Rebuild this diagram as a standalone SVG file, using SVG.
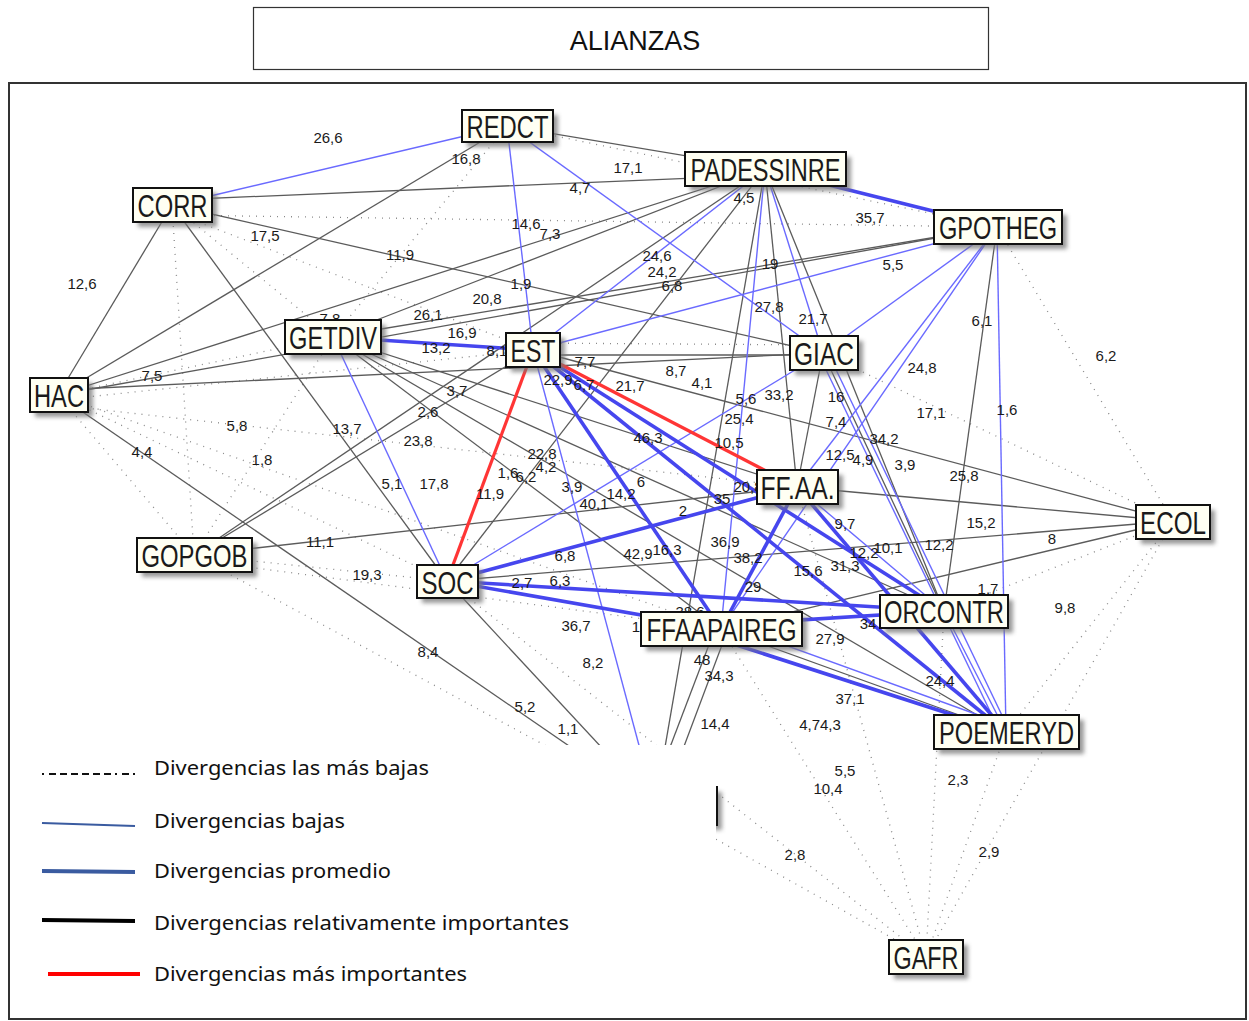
<svg xmlns="http://www.w3.org/2000/svg" width="1249" height="1021" viewBox="0 0 1249 1021">
<defs>
<filter id="blur" x="-20%" y="-20%" width="140%" height="140%"><feGaussianBlur stdDeviation="2"/></filter>
<style>
.g{stroke:#5b5b5b;stroke-width:1.3;fill:none}
.b{stroke:#6a6aff;stroke-width:1.4;fill:none}
.bt{stroke:#4646ee;stroke-width:3.6;fill:none}
.r{stroke:#ff3535;stroke-width:3.2;fill:none}
.d{stroke:#8a8a8a;stroke-width:1.3;stroke-dasharray:1 6;fill:none}
.nb{fill:#fffff3;stroke:#111;stroke-width:2}
.sh{fill:#777;opacity:.75;filter:url(#blur)}
.nt{font-family:"Liberation Sans",Arial,sans-serif;font-size:32px;fill:#1a1a1a;text-anchor:middle}
.el{font-family:"Liberation Sans",Arial,sans-serif;font-size:15px;fill:#1a1a1a;text-anchor:middle}
.lg{font-family:"Noto Sans","Open Sans",sans-serif;font-size:19px;fill:#111}
</style>
</defs>
<rect width="1249" height="1021" fill="#fff"/>
<g id="title">
<rect x="253.5" y="7.5" width="735" height="62" fill="#fff" stroke="#333" stroke-width="1.2"/>
<text x="635" y="50" font-family="'Liberation Sans',Arial,sans-serif" font-size="27" fill="#111" text-anchor="middle">ALIANZAS</text>
</g>
<rect x="9" y="83" width="1237" height="936" fill="#fff" stroke="#333" stroke-width="2"/>
<g id="connectors">
<g id="dotted">
<line class="d" x1="172" y1="205" x2="333" y2="337"/>
<line class="d" x1="172" y1="212" x2="533" y2="350"/>
<line class="d" x1="172" y1="215" x2="997" y2="227"/>
<line class="d" x1="172" y1="205" x2="194" y2="555"/>
<line class="d" x1="58" y1="395" x2="333" y2="337"/>
<line class="d" x1="58" y1="400" x2="533" y2="350"/>
<line class="d" x1="58" y1="395" x2="447" y2="581"/>
<line class="d" x1="58" y1="405" x2="797" y2="487"/>
<line class="d" x1="58" y1="395" x2="194" y2="555"/>
<line class="d" x1="58" y1="395" x2="721" y2="629"/>
<line class="d" x1="194" y1="555" x2="447" y2="581"/>
<line class="d" x1="194" y1="555" x2="655" y2="805"/>
<line class="d" x1="194" y1="560" x2="721" y2="629"/>
<line class="d" x1="507" y1="126" x2="333" y2="337"/>
<line class="d" x1="507" y1="126" x2="997" y2="227"/>
<line class="d" x1="533" y1="343" x2="823" y2="345"/>
<line class="d" x1="333" y1="337" x2="194" y2="555"/>
<line class="d" x1="997" y1="227" x2="1173" y2="521"/>
<line class="d" x1="1173" y1="521" x2="944" y2="611"/>
<line class="d" x1="1173" y1="521" x2="1006" y2="732"/>
<line class="d" x1="1173" y1="521" x2="926" y2="957"/>
<line class="d" x1="1173" y1="521" x2="823" y2="353"/>
<line class="d" x1="1006" y1="732" x2="926" y2="957"/>
<line class="d" x1="944" y1="611" x2="926" y2="957"/>
<line class="d" x1="721" y1="629" x2="926" y2="957"/>
<line class="d" x1="797" y1="487" x2="926" y2="957"/>
<line class="d" x1="655" y1="805" x2="926" y2="957"/>
<line class="d" x1="447" y1="581" x2="926" y2="957"/>
</g>
<g id="gray">
<line class="g" x1="507" y1="126" x2="58" y2="395"/>
<line class="g" x1="507" y1="126" x2="765" y2="169"/>
<line class="g" x1="172" y1="200" x2="765" y2="175"/>
<line class="g" x1="172" y1="205" x2="823" y2="353"/>
<line class="g" x1="172" y1="205" x2="58" y2="395"/>
<line class="g" x1="172" y1="205" x2="447" y2="581"/>
<line class="g" x1="58" y1="395" x2="765" y2="169"/>
<line class="g" x1="58" y1="395" x2="997" y2="227"/>
<line class="g" x1="58" y1="390" x2="823" y2="353"/>
<line class="g" x1="58" y1="395" x2="655" y2="805"/>
<line class="g" x1="333" y1="337" x2="765" y2="169"/>
<line class="g" x1="333" y1="337" x2="997" y2="227"/>
<line class="g" x1="333" y1="337" x2="797" y2="487"/>
<line class="g" x1="333" y1="337" x2="944" y2="611"/>
<line class="g" x1="333" y1="337" x2="1006" y2="732"/>
<line class="g" x1="333" y1="337" x2="721" y2="629"/>
<line class="g" x1="194" y1="555" x2="797" y2="487"/>
<line class="g" x1="194" y1="555" x2="765" y2="169"/>
<line class="g" x1="194" y1="555" x2="533" y2="350"/>
<line class="g" x1="533" y1="350" x2="1173" y2="521"/>
<line class="g" x1="797" y1="487" x2="1173" y2="521"/>
<line class="g" x1="447" y1="581" x2="1173" y2="521"/>
<line class="g" x1="721" y1="629" x2="1173" y2="521"/>
<line class="g" x1="447" y1="581" x2="655" y2="805"/>
<line class="g" x1="715" y1="629" x2="648" y2="805"/>
<line class="g" x1="728" y1="629" x2="662" y2="805"/>
<line class="g" x1="721" y1="629" x2="1006" y2="732"/>
<line class="g" x1="823" y1="353" x2="944" y2="611"/>
<line class="g" x1="823" y1="353" x2="797" y2="487"/>
<line class="g" x1="765" y1="169" x2="797" y2="487"/>
<line class="g" x1="765" y1="169" x2="944" y2="611"/>
<line class="g" x1="765" y1="169" x2="655" y2="805"/>
<line class="g" x1="765" y1="169" x2="447" y2="581"/>
<line class="g" x1="997" y1="227" x2="944" y2="611"/>
<line class="g" x1="533" y1="355" x2="823" y2="355"/>
</g>
<g id="blue-thin">
<line class="b" x1="507" y1="126" x2="172" y2="205"/>
<line class="b" x1="507" y1="126" x2="533" y2="350"/>
<line class="b" x1="507" y1="126" x2="823" y2="353"/>
<line class="b" x1="765" y1="169" x2="533" y2="350"/>
<line class="b" x1="765" y1="169" x2="823" y2="353" stroke-width="2.2"/>
<line class="b" x1="765" y1="169" x2="721" y2="629"/>
<line class="b" x1="533" y1="350" x2="997" y2="227"/>
<line class="b" x1="997" y1="227" x2="823" y2="353"/>
<line class="b" x1="997" y1="227" x2="797" y2="487"/>
<line class="b" x1="997" y1="227" x2="721" y2="629"/>
<line class="b" x1="997" y1="227" x2="1006" y2="732"/>
<line class="b" x1="333" y1="337" x2="447" y2="581"/>
<line class="b" x1="533" y1="350" x2="655" y2="805"/>
<line class="b" x1="447" y1="581" x2="823" y2="353"/>
<line class="b" x1="818" y1="353" x2="1000" y2="732"/>
<line class="b" x1="828" y1="353" x2="1010" y2="732"/>
<line class="b" x1="944" y1="611" x2="1006" y2="732"/>
<line class="b" x1="721" y1="622" x2="1006" y2="725"/>
<line class="b" x1="797" y1="487" x2="944" y2="611"/>
</g>
<g id="blue-thick">
<line class="bt" x1="765" y1="169" x2="997" y2="227"/>
<line class="bt" x1="333" y1="337" x2="533" y2="350"/>
<line class="bt" x1="533" y1="350" x2="721" y2="629"/>
<line class="bt" x1="533" y1="350" x2="944" y2="611"/>
<line class="bt" x1="533" y1="350" x2="1006" y2="732"/>
<line class="bt" x1="797" y1="487" x2="447" y2="581"/>
<line class="bt" x1="797" y1="487" x2="721" y2="629"/>
<line class="bt" x1="797" y1="487" x2="1006" y2="732"/>
<line class="bt" x1="447" y1="581" x2="721" y2="629"/>
<line class="bt" x1="447" y1="581" x2="944" y2="611"/>
<line class="bt" x1="721" y1="625" x2="944" y2="611"/>
<line class="bt" x1="721" y1="640" x2="1006" y2="732"/>
</g>
<g id="red">
<line class="r" x1="533" y1="350" x2="447" y2="581"/>
<line class="r" x1="533" y1="350" x2="797" y2="487"/>
</g>
</g>
<g id="edge-labels">
<text class="el" x="328" y="143">26,6</text>
<text class="el" x="466" y="164">16,8</text>
<text class="el" x="628" y="173">17,1</text>
<text class="el" x="580" y="193">4,7</text>
<text class="el" x="744" y="203">4,5</text>
<text class="el" x="870" y="223">35,7</text>
<text class="el" x="265" y="241">17,5</text>
<text class="el" x="400" y="260">11,9</text>
<text class="el" x="526" y="229">14,6</text>
<text class="el" x="550" y="239">7,3</text>
<text class="el" x="657" y="261">24,6</text>
<text class="el" x="662" y="277">24,2</text>
<text class="el" x="672" y="291">6,8</text>
<text class="el" x="770" y="269">19</text>
<text class="el" x="893" y="270">5,5</text>
<text class="el" x="82" y="289">12,6</text>
<text class="el" x="521" y="289">1,9</text>
<text class="el" x="487" y="304">20,8</text>
<text class="el" x="769" y="312">27,8</text>
<text class="el" x="813" y="324">21,7</text>
<text class="el" x="982" y="326">6,1</text>
<text class="el" x="1106" y="361">6,2</text>
<text class="el" x="428" y="320">26,1</text>
<text class="el" x="330" y="324">7,8</text>
<text class="el" x="462" y="338">16,9</text>
<text class="el" x="436" y="353">13,2</text>
<text class="el" x="497" y="356">8,1</text>
<text class="el" x="152" y="381">7,5</text>
<text class="el" x="585" y="367">7,7</text>
<text class="el" x="558" y="385">22,9</text>
<text class="el" x="584" y="390">6,7</text>
<text class="el" x="630" y="391">21,7</text>
<text class="el" x="676" y="376">8,7</text>
<text class="el" x="702" y="388">4,1</text>
<text class="el" x="457" y="396">3,7</text>
<text class="el" x="922" y="373">24,8</text>
<text class="el" x="746" y="404">5,6</text>
<text class="el" x="779" y="400">33,2</text>
<text class="el" x="836" y="402">16</text>
<text class="el" x="739" y="424">25,4</text>
<text class="el" x="931" y="418">17,1</text>
<text class="el" x="1007" y="415">1,6</text>
<text class="el" x="836" y="427">7,4</text>
<text class="el" x="237" y="431">5,8</text>
<text class="el" x="347" y="434">13,7</text>
<text class="el" x="428" y="417">2,6</text>
<text class="el" x="418" y="446">23,8</text>
<text class="el" x="648" y="443">46,3</text>
<text class="el" x="729" y="448">10,5</text>
<text class="el" x="884" y="444">34,2</text>
<text class="el" x="840" y="460">12,5</text>
<text class="el" x="863" y="465">4,9</text>
<text class="el" x="142" y="457">4,4</text>
<text class="el" x="262" y="465">1,8</text>
<text class="el" x="542" y="459">22,8</text>
<text class="el" x="508" y="478">1,6</text>
<text class="el" x="526" y="482">6,2</text>
<text class="el" x="546" y="472">4,2</text>
<text class="el" x="905" y="470">3,9</text>
<text class="el" x="964" y="481">25,8</text>
<text class="el" x="434" y="489">17,8</text>
<text class="el" x="392" y="489">5,1</text>
<text class="el" x="490" y="499">11,9</text>
<text class="el" x="572" y="492">3,9</text>
<text class="el" x="594" y="509">40,1</text>
<text class="el" x="621" y="499">14,2</text>
<text class="el" x="641" y="487">6</text>
<text class="el" x="722" y="504">35</text>
<text class="el" x="748" y="492">20,8</text>
<text class="el" x="683" y="516">2</text>
<text class="el" x="845" y="529">9,7</text>
<text class="el" x="981" y="528">15,2</text>
<text class="el" x="1052" y="544">8</text>
<text class="el" x="320" y="547">11,1</text>
<text class="el" x="725" y="547">36,9</text>
<text class="el" x="748" y="563">38,2</text>
<text class="el" x="864" y="558">12,2</text>
<text class="el" x="888" y="553">10,1</text>
<text class="el" x="939" y="550">12,2</text>
<text class="el" x="565" y="561">6,8</text>
<text class="el" x="638" y="559">42,9</text>
<text class="el" x="667" y="555">16,3</text>
<text class="el" x="845" y="571">31,3</text>
<text class="el" x="808" y="576">15,6</text>
<text class="el" x="367" y="580">19,3</text>
<text class="el" x="560" y="586">6,3</text>
<text class="el" x="522" y="588">2,7</text>
<text class="el" x="753" y="592">29</text>
<text class="el" x="988" y="594">1,7</text>
<text class="el" x="1065" y="613">9,8</text>
<text class="el" x="690" y="617">38,6</text>
<text class="el" x="576" y="631">36,7</text>
<text class="el" x="636" y="632">1</text>
<text class="el" x="868" y="629">34</text>
<text class="el" x="830" y="644">27,9</text>
<text class="el" x="428" y="657">8,4</text>
<text class="el" x="593" y="668">8,2</text>
<text class="el" x="702" y="665">48</text>
<text class="el" x="719" y="681">34,3</text>
<text class="el" x="940" y="686">24,4</text>
<text class="el" x="850" y="704">37,1</text>
<text class="el" x="525" y="712">5,2</text>
<text class="el" x="568" y="734">1,1</text>
<text class="el" x="715" y="729">14,4</text>
<text class="el" x="820" y="730">4,74,3</text>
<text class="el" x="845" y="776">5,5</text>
<text class="el" x="828" y="794">10,4</text>
<text class="el" x="958" y="785">2,3</text>
<text class="el" x="795" y="860">2,8</text>
<text class="el" x="989" y="857">2,9</text>
</g>
<g id="nodes">
<g id="node-REDCT"><rect class="sh" x="467" y="115" width="91" height="32"/><rect class="nb" x="462" y="110" width="91" height="32"/><text class="nt" x="507.5" y="138" textLength="82" lengthAdjust="spacingAndGlyphs">REDCT</text></g>
<g id="node-PADESSINRE"><rect class="sh" x="690" y="157" width="161" height="34"/><rect class="nb" x="685" y="152" width="161" height="34"/><text class="nt" x="765.5" y="181" textLength="150" lengthAdjust="spacingAndGlyphs">PADESSINRE</text></g>
<g id="node-CORR"><rect class="sh" x="138" y="193" width="79" height="34"/><rect class="nb" x="133" y="188" width="79" height="34"/><text class="nt" x="172.5" y="217" textLength="70" lengthAdjust="spacingAndGlyphs">CORR</text></g>
<g id="node-GPOTHEG"><rect class="sh" x="939" y="215" width="128" height="34"/><rect class="nb" x="934" y="210" width="128" height="34"/><text class="nt" x="998" y="239" textLength="118" lengthAdjust="spacingAndGlyphs">GPOTHEG</text></g>
<g id="node-GETDIV"><rect class="sh" x="290" y="325" width="96" height="34"/><rect class="nb" x="285" y="320" width="96" height="34"/><text class="nt" x="333" y="349" textLength="88" lengthAdjust="spacingAndGlyphs">GETDIV</text></g>
<g id="node-EST"><rect class="sh" x="511" y="338" width="54" height="34"/><rect class="nb" x="506" y="333" width="54" height="34"/><text class="nt" x="533" y="362" textLength="45" lengthAdjust="spacingAndGlyphs">EST</text></g>
<g id="node-GIAC"><rect class="sh" x="795" y="341" width="68" height="34"/><rect class="nb" x="790" y="336" width="68" height="34"/><text class="nt" x="824" y="365" textLength="60" lengthAdjust="spacingAndGlyphs">GIAC</text></g>
<g id="node-HAC"><rect class="sh" x="35" y="383" width="58" height="34"/><rect class="nb" x="30" y="378" width="58" height="34"/><text class="nt" x="59" y="407" textLength="50" lengthAdjust="spacingAndGlyphs">HAC</text></g>
<g id="node-FFAA"><rect class="sh" x="762" y="475" width="81" height="34"/><rect class="nb" x="757" y="470" width="81" height="34"/><text class="nt" x="797.5" y="499" textLength="74" lengthAdjust="spacingAndGlyphs">FF.AA.</text></g>
<g id="node-ECOL"><rect class="sh" x="1141" y="510" width="74" height="34"/><rect class="nb" x="1136" y="505" width="74" height="34"/><text class="nt" x="1173" y="534" textLength="66" lengthAdjust="spacingAndGlyphs">ECOL</text></g>
<g id="node-GOPGOB"><rect class="sh" x="142" y="543" width="115" height="34"/><rect class="nb" x="137" y="538" width="115" height="34"/><text class="nt" x="194.5" y="567" textLength="106" lengthAdjust="spacingAndGlyphs">GOPGOB</text></g>
<g id="node-SOC"><rect class="sh" x="422" y="570" width="61" height="33"/><rect class="nb" x="417" y="565" width="61" height="33"/><text class="nt" x="447.5" y="594" textLength="52" lengthAdjust="spacingAndGlyphs">SOC</text></g>
<g id="node-FFAAPAIREG"><rect class="sh" x="646" y="617" width="161" height="34"/><rect class="nb" x="641" y="612" width="161" height="34"/><text class="nt" x="721.5" y="641" textLength="150" lengthAdjust="spacingAndGlyphs">FFAAPAIREG</text></g>
<g id="node-ORCONTR"><rect class="sh" x="885" y="600" width="128" height="33"/><rect class="nb" x="880" y="595" width="128" height="33"/><text class="nt" x="944" y="623" textLength="120" lengthAdjust="spacingAndGlyphs">ORCONTR</text></g>
<g id="node-POEMERYD"><rect class="sh" x="939" y="720" width="145" height="34"/><rect class="nb" x="934" y="715" width="145" height="34"/><text class="nt" x="1006.5" y="744" textLength="135" lengthAdjust="spacingAndGlyphs">POEMERYD</text></g>
<g id="node-GAFR"><rect class="sh" x="894" y="945" width="74" height="34"/><rect class="nb" x="889" y="940" width="74" height="34"/><text class="nt" x="926" y="969" textLength="65" lengthAdjust="spacingAndGlyphs">GAFR</text></g>
<g id="node-hidden"><rect class="sh" x="605" y="792" width="117" height="38"/><rect class="nb" x="600" y="787" width="117" height="38"/></g>
</g>
<g id="legend">
<rect x="11" y="745" width="705" height="273" fill="#fff"/>
<line x1="42" y1="774" x2="135" y2="774" stroke="#111" stroke-width="2" stroke-dasharray="2 5 7 4 7 4 7 4 7 4 7 4 7 4"/>
<text class="lg" x="154" y="775" textLength="275" lengthAdjust="spacingAndGlyphs">Divergencias las más bajas</text>
<line x1="42" y1="823" x2="135" y2="826" stroke="#3a5ba0" stroke-width="2"/>
<text class="lg" x="154" y="828" textLength="191" lengthAdjust="spacingAndGlyphs">Divergencias bajas</text>
<line x1="42" y1="871" x2="135" y2="872" stroke="#3a5ba0" stroke-width="4"/>
<text class="lg" x="154" y="878" textLength="237" lengthAdjust="spacingAndGlyphs">Divergencias promedio</text>
<line x1="42" y1="920" x2="135" y2="921" stroke="#000" stroke-width="4"/>
<text class="lg" x="154" y="930" textLength="415" lengthAdjust="spacingAndGlyphs">Divergencias relativamente importantes</text>
<line x1="48" y1="974" x2="140" y2="974" stroke="#ff0000" stroke-width="4"/>
<text class="lg" x="154" y="981" textLength="313" lengthAdjust="spacingAndGlyphs">Divergencias más importantes</text>
</g>
</svg>
